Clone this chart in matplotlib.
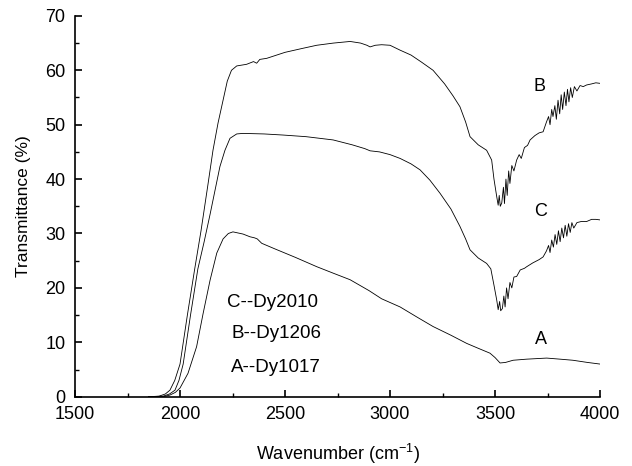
"""FTIR transmittance spectra of three Dy samples (A, B, C)."""

import matplotlib

matplotlib.use("Agg")
import matplotlib.pyplot as plt
from matplotlib.ticker import MultipleLocator

plt.rcParams["font.family"] = ["Liberation Sans", "DejaVu Sans"]
plt.rcParams["mathtext.fontset"] = "custom"
plt.rcParams["mathtext.rm"] = "Liberation Sans"
plt.rcParams["mathtext.it"] = "Liberation Sans:italic"
plt.rcParams["mathtext.bf"] = "Liberation Sans:bold"

# curve B (Dy1206)
b_wn = [1850, 1900, 1930, 1952, 1975, 2000, 2035, 2070, 2100, 2133, 2157, 2181,
        2205, 2225, 2245, 2270, 2317, 2350, 2365, 2380, 2413, 2500, 2580, 2651,
        2730, 2810, 2860, 2890, 2905, 2930, 2960, 3000, 3048, 3100, 3150, 3205,
        3260, 3300, 3333, 3360, 3381, 3420, 3460, 3484, 3495, 3508, 3515, 3520,
        3525, 3532, 3540, 3545, 3552, 3558, 3565, 3571, 3580, 3590, 3603, 3615,
        3625, 3640, 3655, 3667, 3690, 3710, 3729, 3745, 3755, 3762, 3770, 3776,
        3785, 3792, 3800, 3808, 3815, 3822, 3830, 3838, 3845, 3852, 3860, 3868,
        3878, 3890, 3905, 3920, 3936, 3960, 3980, 4000]
b_t = [0.0, 0.1, 0.5, 1.2, 3.0, 6.0, 15.0, 23.5, 30.5, 39.0, 45.3, 50.3,
       54.5, 58.0, 60.0, 60.8, 61.1, 61.6, 61.3, 62.0, 62.2, 63.3, 64.0, 64.6,
       65.0, 65.3, 65.0, 64.6, 64.3, 64.6, 64.7, 64.6, 63.7, 62.8, 61.5, 60.0,
       57.5, 55.3, 53.3, 50.5, 47.8, 46.3, 45.3, 43.5, 40.0, 36.8, 35.2, 37.0,
       35.0, 35.6, 38.5, 35.5, 40.0, 37.0, 41.5, 39.2, 42.5, 41.5, 43.5, 44.5,
       43.8, 45.8, 46.2, 47.2, 48.0, 48.5, 48.7, 50.5, 51.5, 50.0, 52.8, 51.5,
       53.5, 51.0, 54.5, 52.0, 55.5, 52.8, 56.0, 53.5, 56.5, 54.2, 56.8, 55.0,
       57.0, 56.2, 57.2, 57.0, 57.3, 57.5, 57.7, 57.6]

# curve C (Dy2010)
c_wn = [1850, 1920, 1950, 1976, 1995, 2015, 2050, 2085, 2115, 2143, 2167, 2190,
        2214, 2238, 2270, 2300, 2400, 2490, 2600, 2729, 2820, 2880, 2905,
        2950, 3000, 3048, 3100, 3143, 3190, 3238, 3290, 3333, 3360, 3381, 3420,
        3460, 3480, 3495, 3508, 3515, 3522, 3527, 3535, 3542, 3548, 3555, 3562,
        3571, 3580, 3590, 3603, 3620, 3640, 3651, 3680, 3710, 3729, 3745, 3755,
        3762, 3770, 3778, 3786, 3794, 3802, 3810, 3818, 3826, 3834, 3842, 3850,
        3858, 3866, 3875, 3890, 3910, 3936, 3960, 3980, 4000]
c_t = [0.0, 0.1, 0.5, 1.2, 3.0, 6.0, 15.0, 23.5, 28.5, 33.5, 38.0, 42.3,
       45.3, 47.5, 48.3, 48.4, 48.3, 48.1, 47.8, 47.2, 46.3, 45.6, 45.2,
       45.0, 44.5, 43.8, 42.8, 41.7, 39.8, 37.4, 34.5, 31.3, 29.0, 27.0, 25.5,
       24.5, 23.5, 20.5, 17.8, 16.0, 17.5, 15.8, 16.2, 18.5, 16.5, 20.0, 18.0,
       21.0, 20.0, 22.0, 22.1, 23.3, 23.6, 23.9, 24.6, 25.2, 25.7, 26.8, 27.8,
       26.5, 28.8, 27.5, 29.8, 28.0, 30.5, 28.5, 31.0, 29.2, 31.5, 29.5, 31.8,
       30.2, 32.0, 31.0, 32.0, 32.2, 32.2, 32.6, 32.6, 32.5]

# curve A (Dy1017)
a_wn = [1850, 1920, 1952, 1978, 2000, 2038, 2079, 2110, 2143, 2175, 2205, 2230,
        2252, 2300, 2333, 2355, 2368, 2389, 2450, 2550, 2651,
        2730, 2810, 2900, 2960, 3048, 3130, 3205, 3290, 3365, 3420, 3476, 3500,
        3524, 3550, 3586, 3650, 3746, 3810, 3871, 3940, 4000]
a_t = [0.0, 0.0, 0.3, 0.8, 1.6, 4.3, 9.2, 15.3, 21.4, 26.4, 29.0, 30.0,
       30.3, 29.9, 29.4, 29.2, 29.0, 28.2, 27.2, 25.6, 23.9,
       22.7, 21.5, 19.5, 18.0, 16.5, 14.6, 12.9, 11.3, 9.8, 8.9, 8.0, 7.2,
       6.2, 6.3, 6.7, 6.9, 7.1, 6.9, 6.7, 6.3, 6.0]

curve_labels = ["A", "B", "C"]
curve_label_pos = [(3719, 10.6), (3714, 57.0), (3719, 34.0)]
legend_lines = ["C--Dy2010", "B--Dy1206", "A--Dy1017"]
legend_pos = [(2224, 17.4), (2243, 11.7), (2243, 5.4)]

fig = plt.figure(figsize=(6.32, 4.66), dpi=100)
ax = fig.add_axes([0.1187, 0.1487, 0.8307, 0.8172])

for wn, t in ((a_wn, a_t), (b_wn, b_t), (c_wn, c_t)):
    ax.plot(wn, t, color="black", lw=0.6)

for lab, (x, y) in zip(curve_labels, curve_label_pos):
    ax.text(x, y, lab, fontsize=13, ha="center", va="center")
for lab, (x, y) in zip(legend_lines, legend_pos):
    ax.text(x, y, lab, fontsize=13.5, ha="left", va="center")

ax.set_xlim(1500, 4000)
ax.set_ylim(0, 70)
ax.xaxis.set_major_locator(MultipleLocator(500))
ax.xaxis.set_minor_locator(MultipleLocator(250))
ax.yaxis.set_major_locator(MultipleLocator(10))
ax.yaxis.set_minor_locator(MultipleLocator(5))
ax.spines["top"].set_visible(False)
ax.spines["right"].set_visible(False)
for s in ("left", "bottom"):
    ax.spines[s].set_linewidth(1.2)
ax.tick_params(which="major", direction="in", length=5, width=1.2,
               labelsize=13, pad=7)
ax.tick_params(which="minor", direction="in", length=3, width=1.0)

ax.set_xlabel("Wavenumber (cm$^{-1}$)", fontsize=13, labelpad=13)
ax.set_ylabel("Transmittance (%)", fontsize=12.5, labelpad=10)

fig.savefig("out.png", dpi=100)
